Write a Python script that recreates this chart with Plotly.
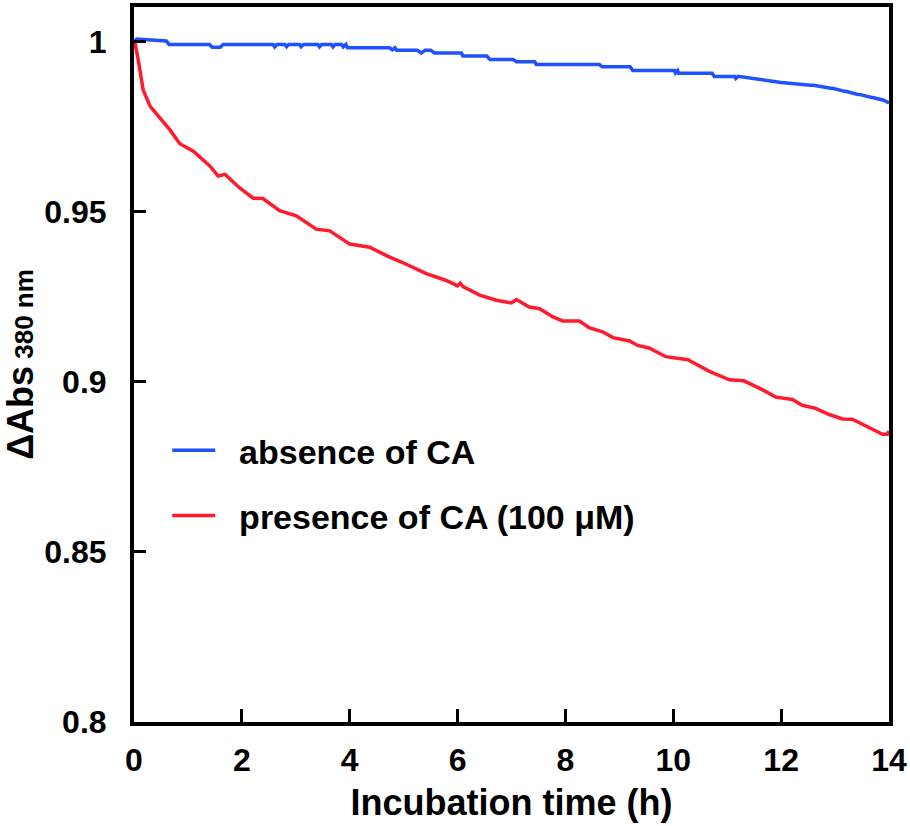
import plotly.graph_objects as go

# absence of CA (blue)
t_absence = [0, 0.05, 0.6, 0.65, 1.4, 1.45, 1.6, 1.65, 2.58, 2.61, 2.65, 2.8, 2.83, 2.87,
             3.07, 3.1, 3.14, 3.41, 3.44, 3.48, 3.66, 3.69, 3.73, 3.85, 3.88, 3.93, 3.96,
             4.74, 4.79, 4.84, 4.87, 5.25, 5.33, 5.4, 5.5, 5.57, 6.07, 6.10, 6.54, 6.6,
             7.03, 7.09, 7.43, 7.46, 8.63, 8.68, 9.2, 9.25, 10.02, 10.04, 10.08, 10.1,
             10.72, 10.76, 11.14, 11.16, 11.2, 11.55, 11.6, 11.97, 12.0, 12.55, 12.6,
             12.92, 12.95, 13.18, 13.2, 13.42, 13.45, 13.68, 13.7, 13.9, 14.0]
v_absence = [1.0, 1.0008, 1.0002, 0.9992, 0.9992, 0.9984, 0.9984, 0.9992, 0.9992, 0.9985, 0.9992,
             0.9992, 0.9985, 0.9992, 0.9992, 0.9985, 0.9992, 0.9992, 0.9985, 0.9992, 0.9992,
             0.9985, 0.9992, 0.9992, 0.9985, 0.9992, 0.9982, 0.9982, 0.9976, 0.9982,
             0.9975, 0.9975, 0.9967, 0.9975, 0.9975, 0.9967, 0.9967, 0.9958, 0.9958,
             0.9948, 0.9948, 0.9941, 0.9941, 0.9933, 0.9933, 0.9926, 0.9926, 0.9915,
             0.9915, 0.9908, 0.9915, 0.9907, 0.9907, 0.9898, 0.9898, 0.9892, 0.9898,
             0.9889, 0.9889, 0.9880, 0.9880, 0.9872, 0.9872, 0.9863, 0.9863, 0.9854,
             0.9854, 0.9845, 0.9845, 0.9836, 0.9836, 0.9828, 0.9820]

# presence of CA 100 uM (red)
t_presence = [0, 0.02, 0.08, 0.17, 0.30, 0.51, 0.67, 0.85, 1.10, 1.41, 1.56, 1.69, 1.96,
              2.21, 2.39, 2.70, 3.01, 3.38, 3.63, 4.0, 4.37, 4.68, 4.99, 5.42, 5.79, 6.0,
              6.05, 6.1, 6.41, 6.72, 6.93, 7.0, 7.09, 7.33, 7.52, 7.77, 7.95, 8.26, 8.44,
              8.69, 8.88, 9.19, 9.34, 9.56, 9.86, 10.27, 10.67, 11.04, 11.31, 11.65, 11.9,
              12.21, 12.39, 12.64, 12.89, 13.14, 13.32, 13.57, 13.88, 13.97, 14.0]
v_presence = [1.0, 0.9995, 0.9945, 0.9858, 0.981, 0.977, 0.974, 0.970, 0.9678, 0.9634,
              0.9605, 0.961, 0.957, 0.954, 0.9539, 0.9503, 0.9488, 0.9449, 0.9444, 0.9405,
              0.9396, 0.9371, 0.935, 0.9318, 0.9298, 0.9282, 0.929, 0.928, 0.9255, 0.924,
              0.9235, 0.9232, 0.9242, 0.922, 0.9215, 0.9191, 0.9179, 0.9179, 0.9159,
              0.9147, 0.913, 0.912, 0.9107, 0.9099, 0.9074, 0.9065, 0.9031, 0.9006,
              0.9003, 0.8977, 0.8955, 0.8948, 0.8931, 0.8922, 0.8904, 0.8891, 0.889,
              0.887, 0.8846, 0.8846, 0.8855]

x_ticks = [0, 2, 4, 6, 8, 10, 12, 14]
y_ticks = [0.8, 0.85, 0.9, 0.95, 1.0]
y_ticktext = ['0.8', '0.85', '0.9', '0.95', '1']

FONT = 'Liberation Sans, Arial, sans-serif'
PAD = '\u00a0\u00a0'  # a bit of room between legend line and text

fig = go.Figure()
fig.add_trace(go.Scatter(x=t_absence, y=v_absence, mode='lines',
                         name=PAD + 'absence of CA',
                         legendgroup='a', line=dict(color='#1f52ff', width=3.5)))
fig.add_trace(go.Scatter(x=t_presence, y=v_presence, mode='lines',
                         name=PAD + 'presence of CA (100 μM)', legendgroup='b',
                         line=dict(color='#ff1a2e', width=3.5)))

fig.update_layout(
    width=910, height=826,
    margin=dict(l=134, r=20, t=3, b=104),
    plot_bgcolor='white', paper_bgcolor='white',
    font=dict(family=FONT, size=32, color='black', weight='bold'),
    legend=dict(x=0.044, y=0.42, xanchor='left', yanchor='top',
                bgcolor='rgba(0,0,0,0)', tracegroupgap=18, itemwidth=43,
                font=dict(size=34, weight='bold')),
)
fig.update_xaxes(
    range=[0, 14], tickvals=x_ticks, ticks='inside', ticklen=13, tickwidth=3,
    tickcolor='black', showline=True, linewidth=4, linecolor='black', mirror=True,
    showgrid=False, zeroline=False, ticklabelstandoff=7,
    title=dict(text='Incubation time (h)', standoff=13,
               font=dict(size=36, weight='bold')),
)
fig.update_yaxes(
    range=[0.8, 1.0102], tickvals=y_ticks, ticktext=y_ticktext, ticks='inside',
    ticklen=12, tickwidth=3, tickcolor='black', showline=True, linewidth=4,
    linecolor='black', mirror=True, showgrid=False, zeroline=False,
    ticklabelstandoff=17,
    title=dict(text='ΔAbs<span style="font-size:26px"> 380 nm</span>', standoff=16,
               font=dict(size=36, weight='bold')),
)

# drop the default 8px page margin so the figure fills the window exactly
fig.write_html("out.html", config={'displayModeBar': False},
               post_script="document.body.style.margin='0px';")
